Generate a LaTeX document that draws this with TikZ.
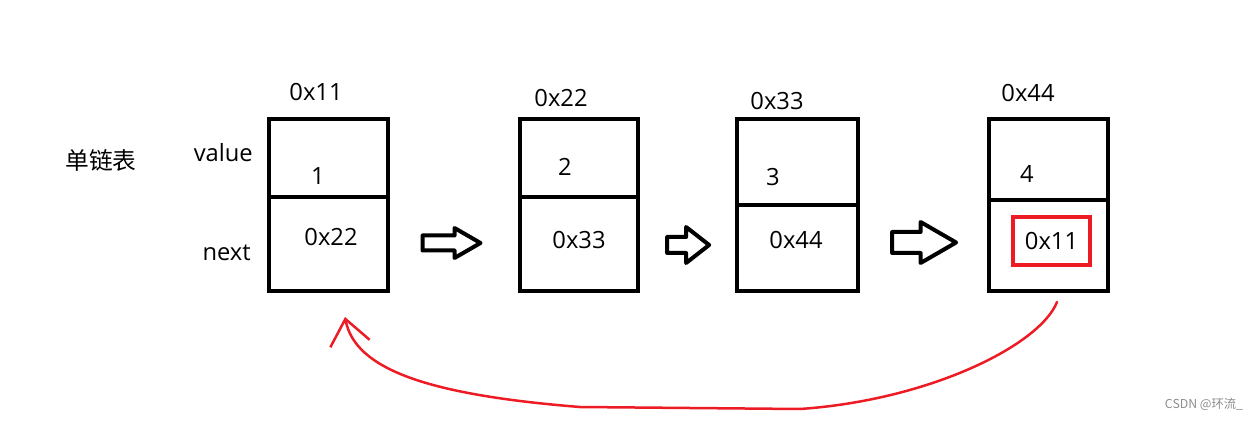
\documentclass[tikz,border=0pt]{standalone}
\usepackage{fontspec}
\setmainfont{Open Sans}
\newfontfamily\cjk{Noto Sans CJK SC}
\usetikzlibrary{positioning,shapes.arrows,arrows.meta}
\definecolor{paintred}{RGB}{237,28,36}

\begin{document}
\begin{tikzpicture}[
    font=\fontsize{13.5}{16}\selectfont,
    cell/.style={rectangle, draw, line width=0.08cm, minimum width=2.38cm, inner sep=0pt, outer sep=0pt},
    hollow/.style={single arrow, draw, line width=0.08cm, line join=round, fill=white, inner xsep=0pt, minimum width=0pt},
    marked/.style={rectangle, draw=paintred, line width=0.08cm, minimum width=1.54cm, minimum height=0.96cm, inner sep=0pt},
    loopback/.style={draw=paintred, line width=0.05cm, line cap=round, line join=round, -{Straight Barb[length=5mm, width=8mm]}},
]
\useasboundingbox (0,0) rectangle (25.18,8.4);

% Titolo e campi
\node[font=\cjk\fontsize{13.5}{16}\selectfont] (title) at (2.02,5.2) {单链表};
\node[anchor=east] (lblvalue) at (5.18,5.34) {value};
\node[anchor=east] (lblnext) at (5.14,3.34) {next};

% Nodi della lista
\node[cell, minimum height=1.56cm] (val1) at (6.57,5.24) {};
\node[cell, minimum height=1.88cm, below=0pt of val1] (nxt1) {};
\node[cell, minimum width=2.36cm, minimum height=1.56cm] (val2) at (11.58,5.24) {};
\node[cell, minimum width=2.36cm, minimum height=1.88cm, below=0pt of val2] (nxt2) {};
\node[cell, minimum width=2.42cm, minimum height=1.72cm] (val3) at (15.95,5.16) {};
\node[cell, minimum width=2.42cm, minimum height=1.72cm, below=0pt of val3] (nxt3) {};
\node[cell, minimum height=1.62cm] (val4) at (20.97,5.21) {};
\node[cell, minimum height=1.82cm, below=0pt of val4] (nxt4) {};

% Indirizzi
\node (addr1) at (6.32,6.56) {0x11};
\node (addr2) at (11.22,6.44) {0x22};
\node (addr3) at (15.54,6.38) {0x33};
\node (addr4) at (20.56,6.54) {0x44};

% Valori
\node (num1) at (6.36,4.88) {1};
\node (num2) at (11.3,5.06) {2};
\node (num3) at (15.46,4.86) {3};
\node (num4) at (20.54,4.92) {4};

% Puntatori
\node (ptr1) at (6.62,3.66) {0x22};
\node (ptr2) at (11.58,3.6) {0x33};
\node (ptr3) at (15.92,3.6) {0x44};
\node[marked] (ptr4) at (21.03,3.58) {0x11};

% Frecce
\node[hollow, minimum height=1.16cm, inner ysep=0.11cm, single arrow head extend=0.15cm, single arrow tip angle=60] (arr1) at (8.9,3.54) {};
\node[hollow, minimum height=0.84cm, inner ysep=0.12cm, single arrow head extend=0.2cm, single arrow tip angle=76] (arr2) at (13.66,3.5) {};
\node[hollow, minimum height=1.28cm, inner ysep=0.17cm, single arrow head extend=0.2cm, single arrow tip angle=60] (arr3) at (18.3,3.55) {};

% Ritorno al primo nodo
\draw[loopback] ([xshift=0.17cm,yshift=-0.22cm]nxt4.south) .. controls (20.8,1.5) and (18.6,0.4) .. (16.0,0.22)
    -- (11.6,0.26) .. controls (8.6,0.5) and (7.1,1.0) .. ([xshift=0.33cm,yshift=-0.52cm]nxt1.south);

\node[font=\cjk\fontsize{7}{8}\selectfont, text=black!45] (mark) at (24.08,0.32) {CSDN @环流\_};

\end{tikzpicture}
\end{document}
